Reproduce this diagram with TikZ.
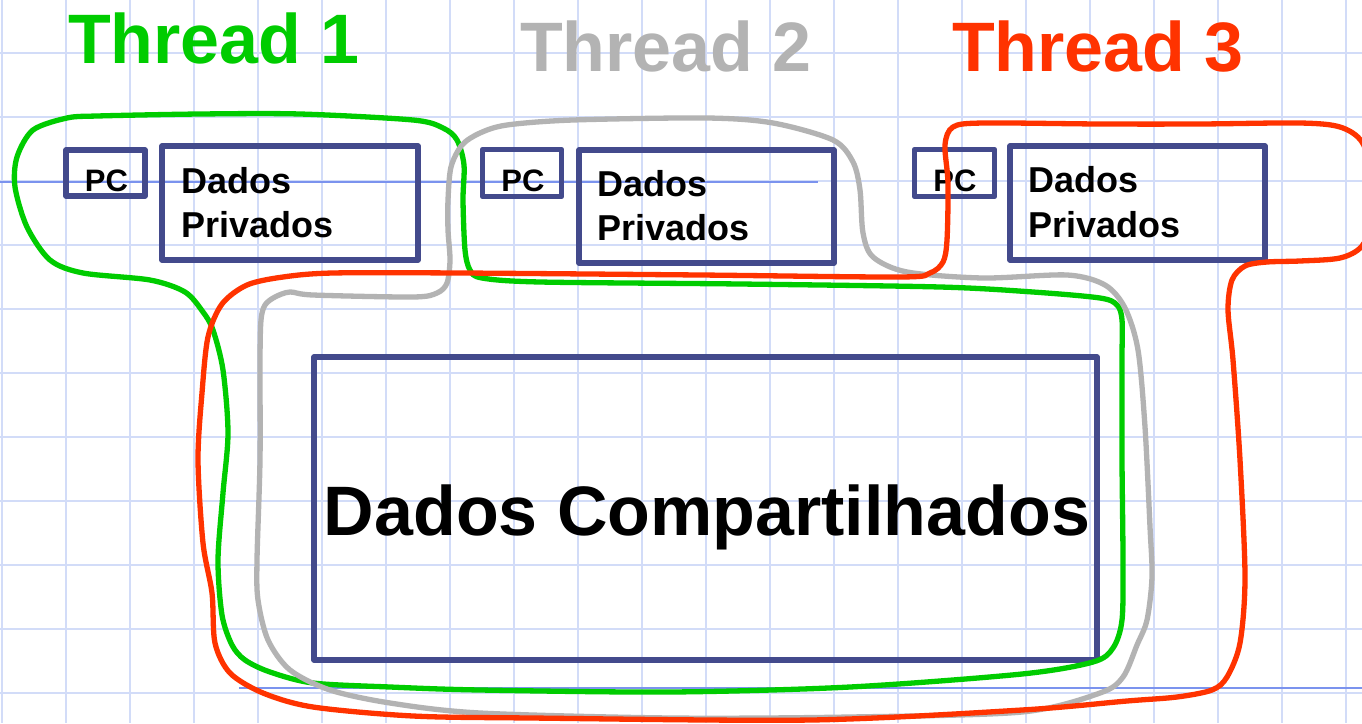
\documentclass[tikz,border=0pt]{standalone}
\usepackage{fontspec}
\setmainfont{Liberation Sans}
\definecolor{gridc}{HTML}{D2DCF8}
\definecolor{gridd}{HTML}{7B93EE}
\definecolor{boxc}{HTML}{434A8C}
\definecolor{tgreen}{HTML}{00CC00}
\definecolor{tgrey}{HTML}{B3B3B3}
\definecolor{tred}{HTML}{FF3300}
\tikzset{
  boxshape/.style={draw=boxc, line width=5.3pt, line join=round, inner sep=0pt, rectangle},
  pctext/.style={font=\fontsize{31}{31}\selectfont\bfseries, inner sep=0pt, anchor=base},
  dptext/.style={font=\fontsize{36}{36}\selectfont\bfseries, inner sep=0pt, anchor=base west},
  titletext/.style={font=\fontsize{70}{70}\selectfont\bfseries, inner sep=0pt, anchor=base west},
  blob/.style={line width=5.3pt, line join=round},
}
\begin{document}
\begin{tikzpicture}[x=1pt,y=-1pt]
\useasboundingbox (0,0) rectangle (1362,723);
\clip (0,0) rectangle (1362,723);
\fill[white] (0,0) rectangle (1362,723);
% grid
\foreach \gx in {2,66,...,1346} \draw[gridc, line width=2pt] (\gx,0) -- (\gx,723);
\foreach \gy in {53,117,...,693} \draw[gridc, line width=2pt] (0,\gy) -- (1362,\gy);
\draw[gridd, line width=1.6pt] (0,182) -- (818,182);
\draw[gridd, line width=1.6pt] (239,688) -- (1362,688);
% titles
\node[titletext, text=tgreen] (t1) at (68,63) {Thread 1};
\node[titletext, text=tgrey] (t2) at (520,71) {Thread 2};
\node[titletext, text=tred] (t3) at (952,71) {Thread 3};
% boxes
\node[boxshape, minimum width=79pt, minimum height=46pt] (pc1) at (105.5,173) {};
\node[boxshape, minimum width=256pt, minimum height=114pt] (dp1) at (290,203) {};
\node[boxshape, minimum width=79pt, minimum height=47pt] (pc2) at (522,173) {};
\node[boxshape, minimum width=255pt, minimum height=113pt] (dp2) at (706.5,206.5) {};
\node[boxshape, minimum width=80pt, minimum height=47pt] (pc3) at (954.5,173) {};
\node[boxshape, minimum width=255pt, minimum height=114pt] (dp3) at (1137.5,203) {};
\node[boxshape, minimum width=783pt, minimum height=303pt] (sh) at (705.5,508.5) {};
% texts
\node[pctext] (pc1t) at (106.5,191) {PC};
\node[pctext] (pc2t) at (523,191) {PC};
\node[pctext] (pc3t) at (955,191) {PC};
\node[dptext] (dp1a) at (181,193) {Dados};
\node[dptext] (dp1b) at (181,237) {Privados};
\node[dptext] (dp2a) at (597,196) {Dados};
\node[dptext] (dp2b) at (597,240) {Privados};
\node[dptext] (dp3a) at (1028,192) {Dados};
\node[dptext] (dp3b) at (1028,237) {Privados};
\node[font=\fontsize{70}{70}\selectfont\bfseries, inner sep=0pt, anchor=base] (sht) at (707,535) {Dados Compartilhados};
% thread 1 (green)
\draw[blob, tgreen] plot[smooth cycle, tension=0.5] coordinates {
(97,116) (200,114) (300,114) (413,120) (443,128) (457,140) (464,165) (463,200) (465,250) (470,270) (482,278) (540,282) (740,284) (940,287) (1033,292) (1100,298) (1117,305) (1122,320) (1122,360) (1122,460) (1123,560) (1122,620) (1113,648) (1093,662) (1022,674) (850,687) (671,692) (480,690) (390,687) (313,683) (270,672) (245,660) (232,645) (222,615) (218,560) (223,493) (228,433) (223,370) (213,330) (203,312) (185,292) (150,280) (83,273) (50,260) (27,227) (15,187) (17,157) (33,130) (67,118)};
% thread 2 (grey)
\draw[blob, tgrey] plot[smooth cycle, tension=0.5] coordinates {
(507,125) (573,120) (707,118) (773,123) (833,140) (853,162) (860,190) (863,233) (873,257) (907,272) (983,278) (1067,275) (1105,285) (1125,308) (1138,350) (1145,427) (1150,527) (1152,577) (1147,620) (1137,645) (1123,677) (1100,693) (1022,712) (850,717) (671,718) (480,713) (390,703) (330,690) (290,670) (268,640) (258,600) (257,560) (260,460) (260,360) (261,320) (265,305) (275,297) (290,292) (313,295) (413,297) (437,293) (447,283) (450,260) (448,230) (448,200) (451,167) (462,145) (480,133)};
% thread 3 (red)
\draw[blob, tred] plot[smooth cycle, tension=0.5] coordinates {
(983,123) (1100,124) (1200,124) (1300,123) (1340,127) (1362,142) (1375,180) (1375,215) (1362,246) (1340,258) (1300,261) (1267,262) (1245,266) (1232,280) (1228,310) (1233,360) (1240,460) (1245,577) (1240,643) (1227,677) (1212,690) (1177,697) (1127,701) (1022,710) (811,720) (531,718) (413,716) (313,707) (263,693) (230,673) (215,643) (212,593) (203,543) (198,460) (202,393) (208,337) (222,304) (247,285) (283,277) (333,273) (460,273) (700,275) (900,277) (930,273) (943,262) (947,240) (948,183) (945,145) (953,127)};
\end{tikzpicture}
\end{document}
